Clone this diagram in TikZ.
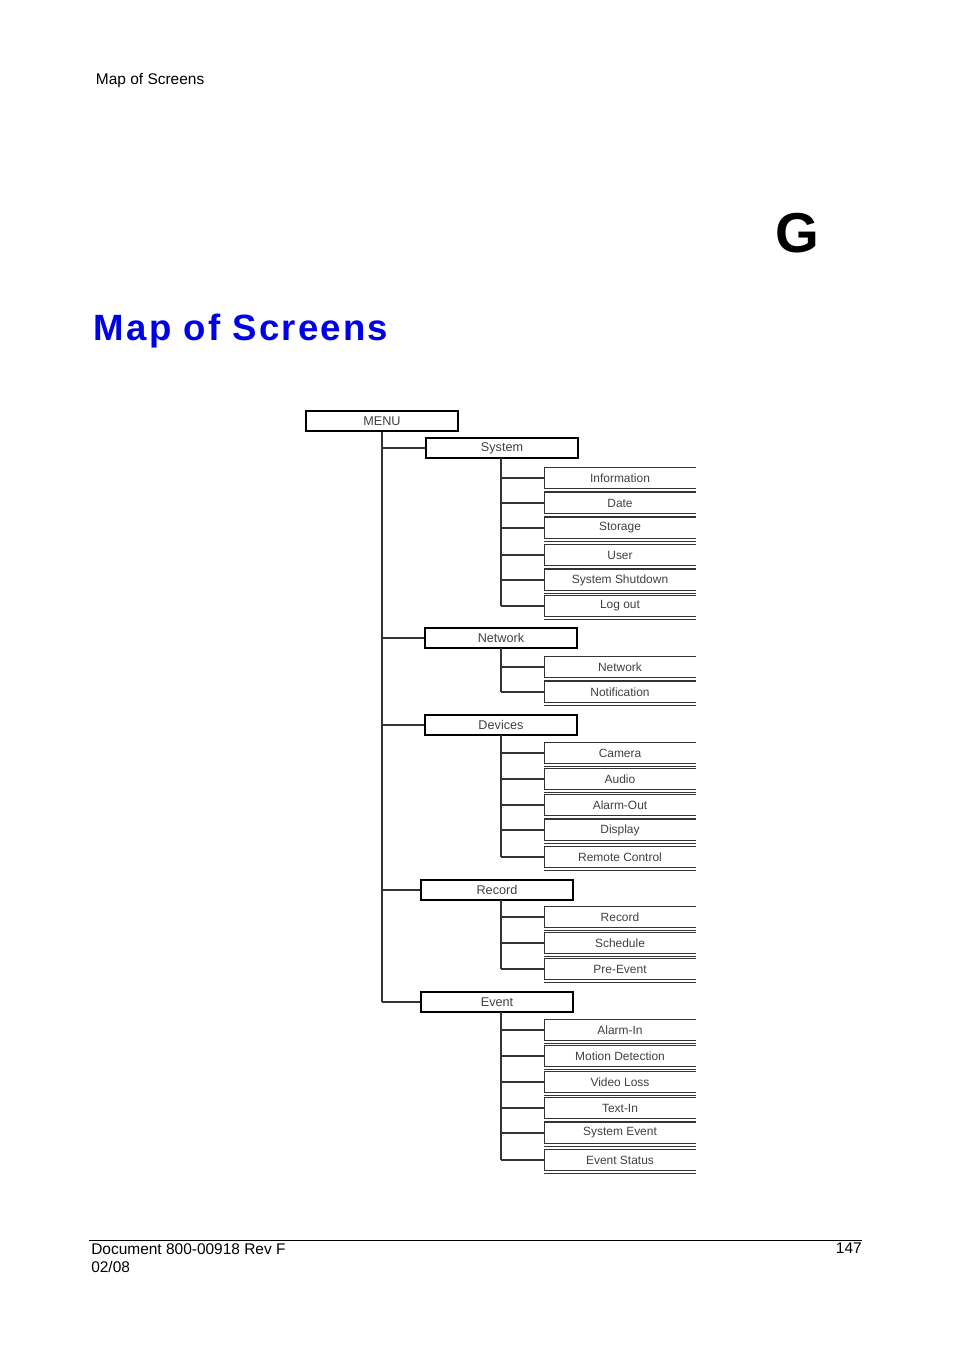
\documentclass[tikz,border=0pt]{standalone}
\usepackage{fontspec}
\setmainfont{Liberation Sans}
\definecolor{titleblue}{RGB}{0,0,230}
\tikzset{
  box/.style={draw, thick, minimum width=3.8cm, minimum height=0.5cm, inner sep=0pt, font=\fontsize{9}{10}\selectfont, text=black!75},
  leaf/.style={minimum width=3.78cm, minimum height=0.5cm, inner sep=0pt, font=\fontsize{8.5}{10}\selectfont, text=black!75},
  wire/.style={thick, black!80}
}
\begin{document}
\begin{tikzpicture}[x=0.025cm, y=-0.025cm]
  \useasboundingbox (0,0) rectangle (954,1348);
  \node[anchor=west, font=\fontsize{11}{13}\selectfont] (head) at (91,81) {Map of Screens};
  \node[font=\bfseries\fontsize{40}{44}\selectfont] (chap) at (797,233) {G};
  \node[anchor=west, text=titleblue, font=\bfseries\fontsize{26}{30}\selectfont] (title) at (89,331) {\addfontfeature{LetterSpace=6}Map of Screens};
  % top level
  \node[box] (menu) at (382,421) {MENU};
  \node[box] (system) at (502,448) {System};
  \node[box] (network) at (501,638) {Network};
  \node[box] (devices) at (501,725) {Devices};
  \node[box] (record) at (497,890) {Record};
  \node[box] (event) at (497,1002) {Event};
  \coordinate (trunk) at (382,1002);
  \draw[wire] (menu.south) -- (trunk);
  \foreach \g in {system,network,devices,record,event}
    \draw[wire] (\g.west) -- (\g.west -| trunk);
  % leaves
  \foreach \g/\gy/\list in {
      system/448/{478/Information,503/Date/Time,528/Storage,555/User,580/System Shutdown,606/Log out},
      network/638/{667/Network,692/Notification},
      devices/725/{753/Camera,779/Audio,805/Alarm-Out,830/Display,857/Remote Control},
      record/890/{917/Record,943/Schedule,969/Pre-Event},
      event/1002/{1030/Alarm-In,1056/Motion Detection,1082/Video Loss,1108/Text-In,1133/System Event,1160/Event Status}} {
    \coordinate (\g-top) at (501,\gy+10);
    \foreach \y/\t [count=\i] in \list {
      \node[leaf] (\g-\i) at (620,\y) {\t};
      \draw[wire] (\g-\i.north east) -- (\g-\i.north west) -- (\g-\i.south west) -- (\g-\i.south east);
      \draw[wire] ([yshift=-2pt]\g-\i.south west) -- ([yshift=-2pt]\g-\i.south east);
      \draw[wire] (\g-\i.west) -- (\g-\i.west -| \g-top);
      \coordinate (\g-last) at (\g-\i.west -| \g-top);
    }
    \draw[wire] (\g-top) -- (\g-last);
  }
  % footer
  \coordinate (fl) at (89,1240);
  \coordinate (fr) at (862,1240);
  \draw[thin] (fl) -- (fr);
  \node[anchor=north west, align=left, inner sep=0pt, font=\fontsize{11}{13}\selectfont] (doc) at (91,1243) {Document 800-00918 Rev F\\02/08};
  \node[anchor=north east, inner sep=0pt, font=\fontsize{11}{13}\selectfont] (page) at (862,1243) {147};
\end{tikzpicture}
\end{document}
